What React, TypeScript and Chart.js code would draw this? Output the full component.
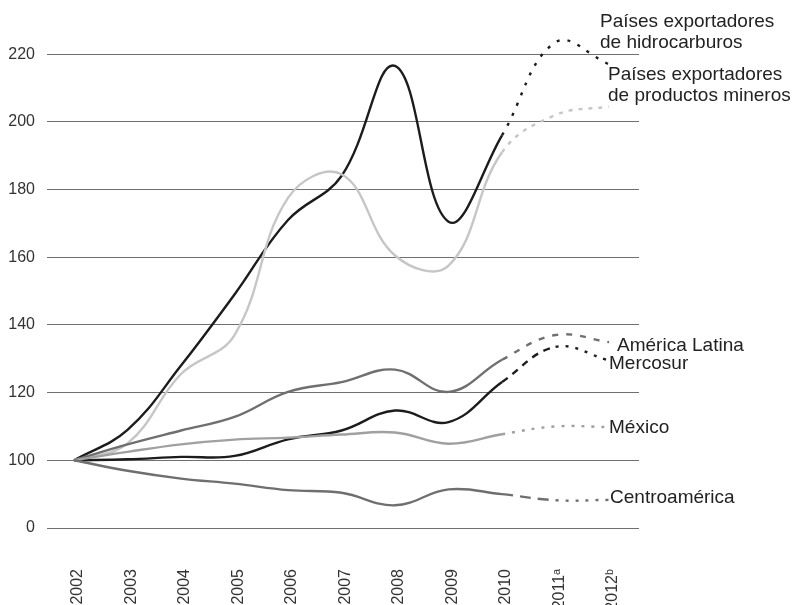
import React, { useEffect, useRef } from "react";
import { Chart, registerables } from "chart.js";

Chart.register(...registerables);

const years = [2002, 2003, 2004, 2005, 2006, 2007, 2008, 2009, 2010, 2011, 2012];
const yearLabels = ["2002", "2003", "2004", "2005", "2006", "2007", "2008", "2009", "2010", "2011ᵃ", "2012ᵇ"];
const yTickValues = [80, 100, 120, 140, 160, 180, 200, 220];
const yTickLabels = ["0", "100", "120", "140", "160", "180", "200", "220"];

const hidrocarburos = [100, 109, 128, 149, 171, 184, 216.5, 170.5, 196, 223.5, 217];
const mineros = [100, 105, 125.5, 137, 177.5, 184.5, 160.5, 157.5, 191, 202, 204.5];
const americaLatina = [100, 104.7, 108.8, 112.8, 120.2, 123.1, 126.8, 120.2, 129.7, 137, 134.9];
const mercosur = [100, 100.3, 101, 101.3, 106.2, 108.8, 114.7, 111.3, 123.1, 133.5, 129.5];
const mexico = [100, 102.5, 104.7, 106.1, 106.7, 107.6, 108.2, 104.9, 107.7, 110, 109.8];
const centroamerica = [100, 96.9, 94.6, 93.1, 91.2, 90.4, 86.7, 91.4, 90, 88.2, 88.3];

const lastActual = 8; // index of 2010; later points are projections

const FONT = "'Liberation Sans', Arial, Helvetica, sans-serif";

function toPoints(vals: number[]) {
  return vals.map((v, i) => ({ x: years[i], y: v }));
}

function makeDataset(label: string, vals: number[], color: string, dash1: number[], dash2: number[]) {
  return {
    label,
    data: toPoints(vals),
    borderColor: color,
    borderWidth: 2.4,
    pointRadius: 0,
    tension: 0.4,
    fill: false,
    segment: {
      borderDash: (ctx: any) =>
        ctx.p0DataIndex < lastActual ? [] : ctx.p0DataIndex === lastActual ? dash1 : dash2,
    },
  };
}

const annotations = [
  { lines: ["Países exportadores", "de hidrocarburos"], value: 228, dx: -9 },
  { lines: ["Países exportadores", "de productos mineros"], value: 212.4, dx: -1 },
  { lines: ["América Latina"], value: 132.4, dx: 8 },
  { lines: ["Mercosur"], value: 127.1, dx: 0 },
  { lines: ["México"], value: 108.0, dx: 0 },
  { lines: ["Centroamérica"], value: 87.3, dx: 1 },
];

const labelPlugin = {
  id: "seriesLabels",
  afterDatasetsDraw(chart: any) {
    const ctx = chart.ctx;
    const xs = chart.scales.x;
    const ys = chart.scales.y;
    const x0 = xs.getPixelForValue(years[years.length - 1]);
    ctx.save();
    ctx.font = `19px ${FONT}`;
    ctx.fillStyle = "#222";
    ctx.textAlign = "left";
    ctx.textBaseline = "alphabetic";
    annotations.forEach((a) => {
      const y = ys.getPixelForValue(a.value);
      a.lines.forEach((t, i) => ctx.fillText(t, x0 + a.dx, y + i * 21));
    });
    ctx.restore();
  },
};

export default function App() {
  const ref = useRef<HTMLCanvasElement | null>(null);
  useEffect(() => {
    if (!ref.current) return;
    const chart = new Chart(ref.current, {
      type: "line",
      data: {
        datasets: [
          makeDataset("Centroamérica", centroamerica, "#6f6f6f", [11, 7], [3, 7]),
          makeDataset("México", mexico, "#a0a0a0", [3, 7], [3, 7]),
          makeDataset("América Latina", americaLatina, "#6f6f6f", [6, 8], [6, 8]),
          makeDataset("Mercosur", mercosur, "#1c1c1c", [7, 6], [3, 7]),
          makeDataset("Países exportadores de productos mineros", mineros, "#c6c6c6", [4, 6], [4, 6]),
          makeDataset("Países exportadores de hidrocarburos", hidrocarburos, "#1c1c1c", [3, 8], [3, 8]),
        ] as any,
      },
      options: {
        animation: false,
        responsive: false,
        clip: false as any,
        layout: { padding: { top: 0, right: 160, bottom: 0, left: 0 } },
        plugins: { legend: { display: false }, tooltip: { enabled: false } },
        scales: {
          x: {
            type: "linear",
            min: 2001.495,
            max: 2012.56,
            grid: { display: false, drawTicks: false },
            border: { display: false },
            afterFit: (s: any) => {
              s.height = 77;
            },
            afterBuildTicks: (s: any) => {
              s.ticks = years.map((v) => ({ value: v }));
            },
            ticks: {
              autoSkip: false,
              minRotation: 90,
              maxRotation: 90,
              padding: 41,
              labelOffset: 4,
              color: "#333",
              font: { family: FONT, size: 16 },
              callback: (v: any) => {
                const i = years.indexOf(Number(v));
                return i >= 0 ? yearLabels[i] : "";
              },
            },
          },
          y: {
            type: "linear",
            min: 80,
            max: 229.6,
            grid: { color: "#707070", lineWidth: 1, drawTicks: false },
            border: { display: false },
            afterFit: (s: any) => {
              s.width = 47;
            },
            afterBuildTicks: (s: any) => {
              s.ticks = yTickValues.map((v) => ({ value: v }));
            },
            ticks: {
              padding: 12,
              color: "#333",
              font: { family: FONT, size: 16 },
              callback: (v: any) => {
                const i = yTickValues.indexOf(Number(v));
                return i >= 0 ? yTickLabels[i] : "";
              },
            },
          },
        },
      },
      plugins: [labelPlugin],
    });
    return () => chart.destroy();
  }, []);
  return (
    <div style={{ position: "absolute", left: 0, top: 0, width: 799, height: 605, background: "#fff" }}>
      <canvas ref={ref} width={799} height={605} style={{ display: "block" }} />
    </div>
  );
}
